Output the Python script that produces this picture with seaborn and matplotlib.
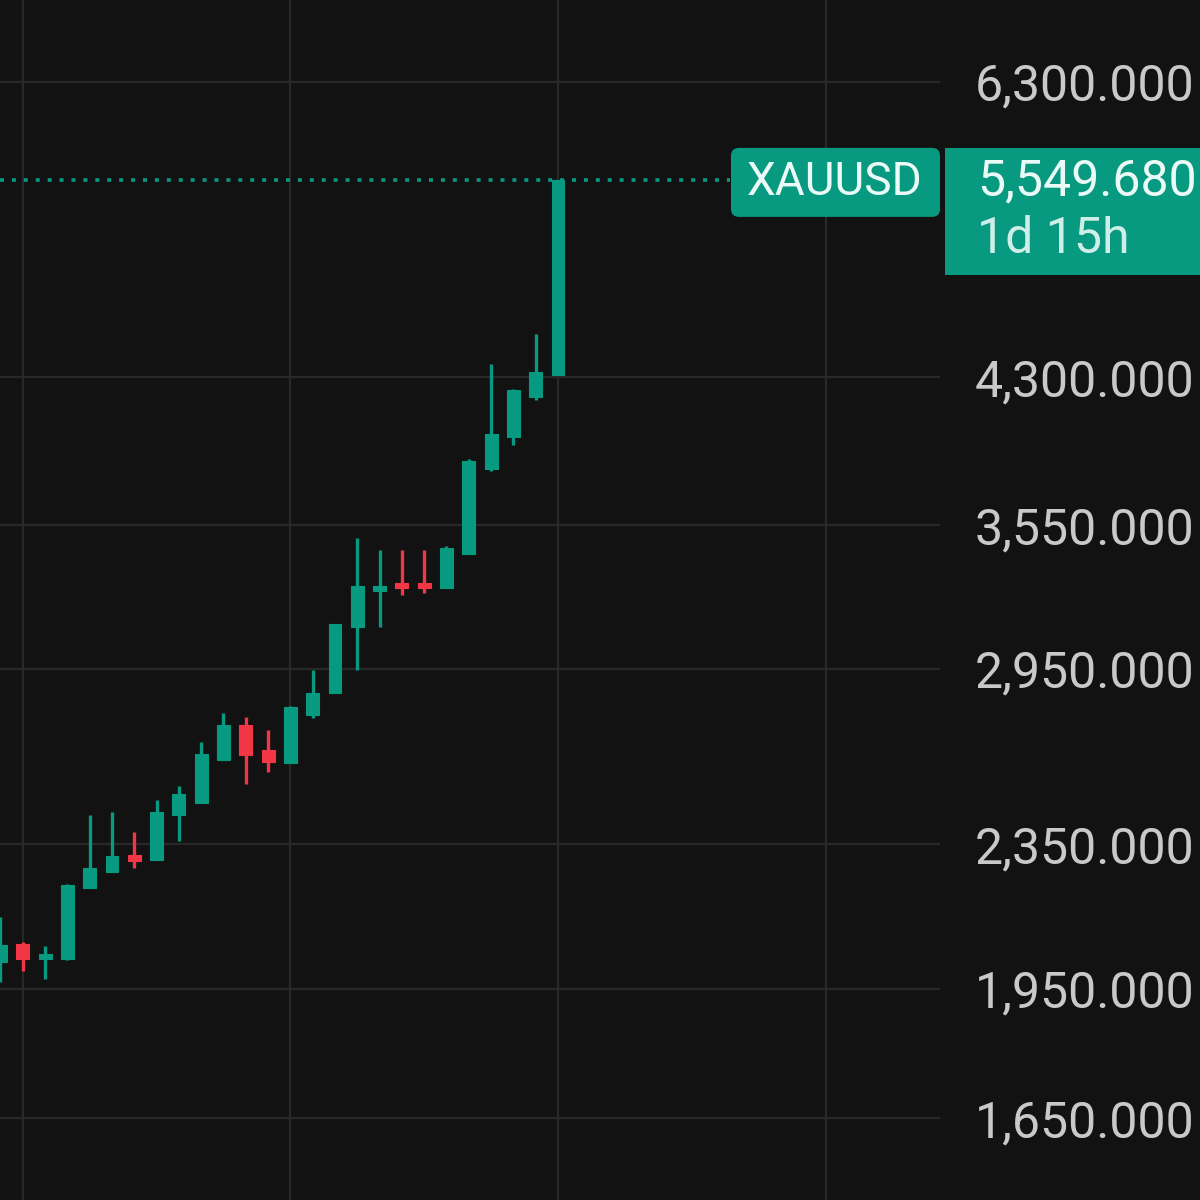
import matplotlib
matplotlib.use("Agg")
import matplotlib.pyplot as plt
import seaborn as sns
import numpy as np
from matplotlib.patches import Rectangle, FancyBboxPatch
from matplotlib.transforms import IdentityTransform

# XAUUSD candles
opens  = [2019, 2067, 2027, 2027, 2221, 2268, 2318, 2303, 2440, 2481, 2622, 2744, 2656,
          2610, 2780, 2857, 3114, 3260, 3294, 3294, 3275, 3420, 3819, 3980, 4190, 4311]
highs  = [2140, 2072, 2061, 2232, 2440, 2452, 2387, 2490, 2533, 2684, 2786, 2772, 2726,
          2812, 2946, 3126, 3495, 3437, 3437, 3437, 3459, 3868, 4373, 4234, 4545, 5549.68]
lows   = [1968, 1996, 1975, 2025, 2221, 2268, 2280, 2303, 2362, 2481, 2622, 2542, 2582,
          2610, 2766, 2857, 2946, 3114, 3244, 3252, 3275, 3420, 3809, 3939, 4174, 4311]
closes = [2064, 2027, 2040, 2230, 2280, 2315, 2300, 2452, 2507, 2643, 2744, 2639, 2616,
          2809, 2857, 3126, 3281, 3281, 3275, 3275, 3446, 3858, 3995, 4229, 4328, 5549.68]

price_ticks = [1650, 1950, 2350, 2950, 3550, 4300, 6300]
symbol = "XAUUSD"
countdown = "1d 15h"

UP = "#089981"
DOWN = "#f23645"
BG = "#121212"
GRID = "#282828"

sns.set_theme(style="dark")
plt.rcParams['font.family'] = ['Roboto', 'DejaVu Sans']

fig = plt.figure(figsize=(12, 12), dpi=100)
fig.patch.set_facecolor(BG)
ax = fig.add_axes([0, 0, 940 / 1200, 1])
ax.set_facecolor(BG)

x = np.arange(len(opens))
o = np.array(opens, dtype=float)
c = np.array(closes, dtype=float)
colors = [UP if cc >= oo else DOWN for oo, cc in zip(o, c)]

ax.set_yscale("log")
ax.set_ylim(1484, 7003)
ax.set_xlim(-0.022, 42.13)

# wicks and bodies
ax.vlines(x, lows, highs, colors=colors, linewidth=2.4, zorder=3)
ax.bar(x, np.abs(c - o), bottom=np.minimum(o, c), width=0.58, color=colors,
       edgecolor=colors, linewidth=0.8, zorder=4)

# grid
ax.set_yticks(price_ticks)
ax.set_yticklabels([f"{p:,.3f}" for p in price_ticks])
ax.yaxis.set_minor_locator(matplotlib.ticker.NullLocator())
ax.set_xticks([1, 13, 25, 37])
ax.set_xticklabels([])
ax.grid(True, color=GRID, linewidth=1.6)
ax.yaxis.tick_right()
ax.tick_params(axis="y", length=0, pad=25, labelsize=36, labelcolor="#c9c9c9")
ax.tick_params(axis="x", length=0)
for s in ax.spines.values():
    s.set_visible(False)

# last price line
last = closes[-1]
ax.axhline(last, xmin=0, xmax=730 / 940, color=UP, linestyle=(0, (1.1, 2.2)),
           linewidth=2.6, zorder=2)

# last price labels (pixel positions relative to the price line)
y_px = ax.transData.transform((0, last))[1]
fig.add_artist(Rectangle((945, y_px - 95), 260, 127, transform=IdentityTransform(),
                         facecolor=UP, edgecolor="none"))
fig.add_artist(FancyBboxPatch((731, y_px - 37), 209, 69,
                              boxstyle="round,pad=0,rounding_size=8",
                              transform=IdentityTransform(),
                              facecolor=UP, edgecolor="none"))
fig.text(835 / 1200, (y_px - 2) / 1200, symbol, ha="center", va="center",
         fontsize=33, color="#eafaf6")
fig.text(977 / 1200, (y_px - 2) / 1200, f"{last:,.3f}", ha="left", va="center",
         fontsize=36, color="#eafaf6")
fig.text(977 / 1200, (y_px - 59) / 1200, countdown, ha="left", va="center",
         fontsize=36, color="#cfeee7")

fig.savefig("out.png", dpi=100, facecolor=BG)
